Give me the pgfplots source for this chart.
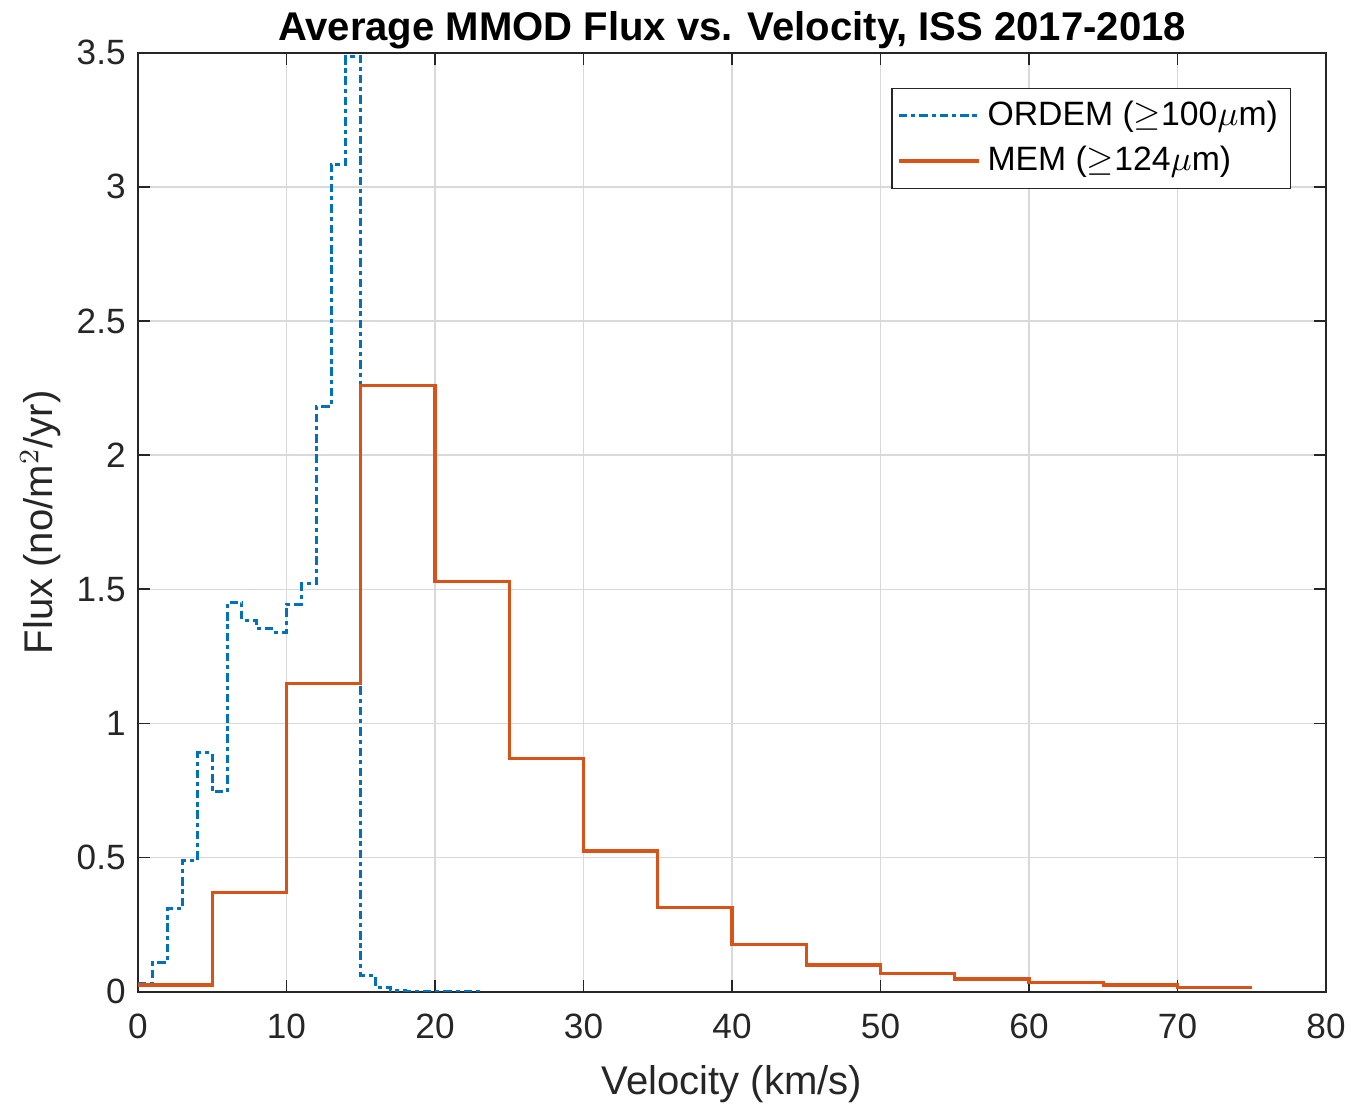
\documentclass[border=0pt]{standalone}
\usepackage{fontspec}
\setmainfont{Liberation Sans}
\usepackage{pgfplots}
\pgfplotsset{compat=1.18}
\definecolor{mblue}{rgb}{0,0.447,0.741}
\definecolor{morange}{rgb}{0.85,0.325,0.098}
\definecolor{axgray}{rgb}{0.15,0.15,0.15}

% ORDEM, 1 km/s bins (left edge, flux)
\pgfplotstableread{
v f
0 0.03
1 0.11
2 0.31
3 0.49
4 0.89
5 0.745
6 1.45
7 1.385
8 1.355
9 1.34
10 1.445
11 1.52
12 2.18
13 3.085
14 3.485
15 0.06
16 0.015
17 0.005
18 0.002
19 0.002
20 0.002
21 0.002
22 0.002
23 0.002
}\ordem

% MEM, 5 km/s bins (left edge, flux)
\pgfplotstableread{
v f
0 0.025
5 0.37
10 1.15
15 2.26
20 1.53
25 0.87
30 0.525
35 0.315
40 0.175
45 0.10
50 0.067
55 0.048
60 0.034
65 0.025
70 0.015
75 0.015
}\mem

\begin{document}
\begin{tikzpicture}
\begin{axis}[
  name=ax, scale only axis,
  width=11.88cm, height=9.39cm,
  xmin=0, xmax=80, ymin=0, ymax=3.5,
  xtick={0,10,20,30,40,50,60,70,80},
  ytick={0,0.5,1,1.5,2,2.5,3,3.5},
  yticklabels={0,0.5,1,1.5,2,2.5,3,3.5},
  /pgf/number format/assume math mode=true,
  tick align=inside, major tick length=0.12cm,
  tick style={axgray, line width=0.5pt},
  axis line style={axgray, line width=0.6pt},
  grid=major, grid style={gray!30, line width=0.4pt},
  tick label style={font=\fontsize{10}{12}\selectfont, text=axgray},
  xticklabel style={inner xsep=0pt, yshift=-0.1cm},
  label style={font=\fontsize{11.4}{13}\selectfont, text=axgray},
  xlabel shift=0.02cm,
  ylabel shift=-0.08cm,
  title style={font=\bfseries\fontsize{11.4}{13}\selectfont, yshift=-0.3cm},
  title={Average MMOD Flux vs. Velocity, ISS 2017-2018},
  xlabel={Velocity (km/s)},
  ylabel={Flux (no/m$^2$/yr)},
  legend style={at={(0.9705,0.9627)}, anchor=north east,
    draw=axgray, line width=0.4pt, fill=white,
    font=\fontsize{9.6}{12}\selectfont, row sep=0.5pt,
    inner xsep=1.5pt, inner ysep=1.5pt},
  legend cell align=left,
  legend image code/.code={\draw[#1] (0.1cm,0cm) -- (0.9cm,0cm);},
]
\addplot[const plot, mblue, line width=0.85pt,
  dash pattern=on 2.4pt off 1.1pt on 1.2pt off 1.1pt] table[x=v,y=f] {\ordem};
\addlegendentry{ORDEM ($\geq$100$\mu$m)}
\addplot[const plot, morange, line width=0.95pt] table[x=v,y=f] {\mem};
\addlegendentry{MEM ($\geq$124$\mu$m)}
\end{axis}
\path (ax.south west) ++(-1.38cm,-1.15cm);
\path (ax.north east) ++(0.25cm,0.51cm);
\end{tikzpicture}
\end{document}
